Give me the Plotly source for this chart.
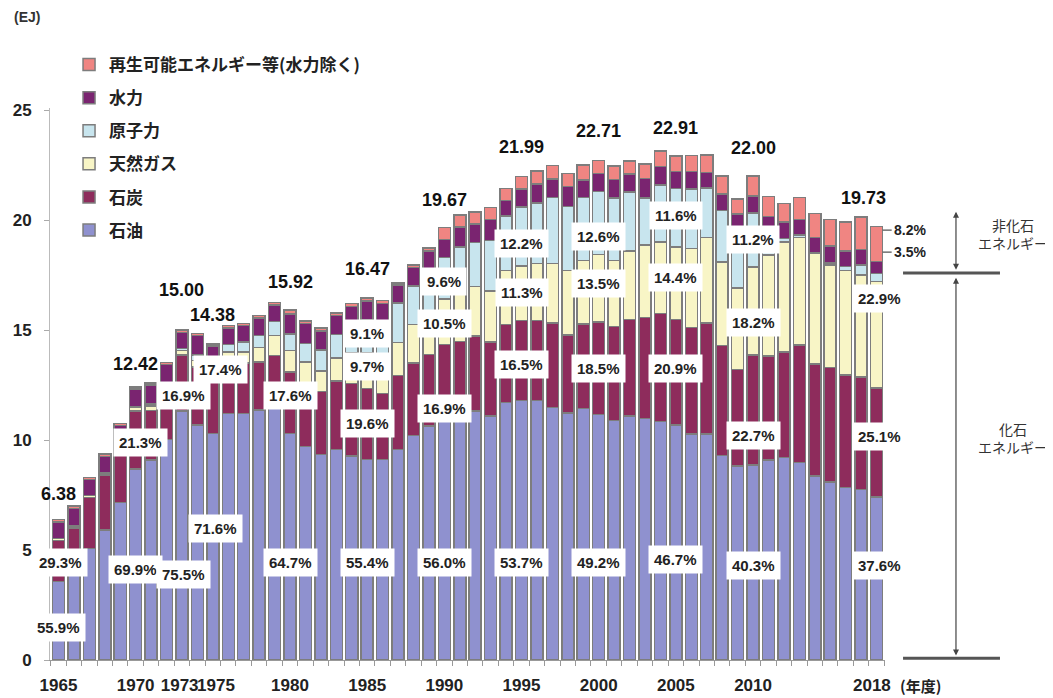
import plotly.graph_objects as go

years = list(range(1965, 2019))

# EJ per fiscal year
oil = [3.57, 4.10, 5.08, 5.91, 7.17, 8.68, 9.09, 10.03, 11.33, 10.68,
       10.30, 11.20, 11.20, 11.36, 11.50, 10.30, 9.70, 9.35, 9.58, 9.27,
       9.12, 9.12, 9.58, 10.20, 10.64, 11.02, 11.09, 11.33, 11.09, 11.70,
       11.81, 11.79, 11.48, 11.24, 11.44, 11.17, 10.90, 11.09, 10.98, 10.85,
       10.69, 10.27, 10.27, 9.30, 8.82, 8.87, 9.09, 9.21, 8.97, 8.36,
       8.10, 7.85, 7.76, 7.42]
coal = [1.87, 1.90, 2.31, 2.50, 2.55, 2.65, 2.25, 2.20, 2.54, 2.65,
        2.50, 2.40, 2.30, 2.20, 2.35, 2.80, 2.90, 2.85, 3.10, 3.30,
        3.23, 3.00, 3.35, 3.30, 3.25, 3.32, 3.40, 3.40, 3.38, 3.55,
        3.63, 3.65, 3.85, 3.53, 3.83, 4.20, 4.26, 4.40, 4.60, 4.90,
        4.79, 4.85, 5.05, 5.00, 4.40, 4.99, 4.73, 4.80, 5.35, 5.10,
        5.20, 5.10, 5.10, 4.95]
gas = [0.08, 0.10, 0.08, 0.10, 0.12, 0.15, 0.20, 0.25, 0.20, 0.30,
       0.35, 0.40, 0.50, 0.65, 0.90, 0.97, 0.95, 0.95, 1.05, 1.40,
       1.60, 1.60, 1.50, 1.75, 1.95, 2.07, 2.25, 2.25, 2.30, 2.45,
       2.48, 2.60, 2.70, 2.95, 2.90, 3.07, 3.00, 3.10, 3.30, 3.25,
       3.30, 3.60, 3.90, 3.80, 3.70, 4.00, 4.60, 5.00, 4.90, 5.05,
       4.65, 4.75, 4.65, 4.85]
nuclear = [0.00, 0.00, 0.00, 0.01, 0.02, 0.04, 0.09, 0.10, 0.10, 0.25,
           0.35, 0.35, 0.45, 0.55, 0.65, 0.75, 0.85, 0.95, 1.08, 1.30,
           1.50, 1.70, 1.80, 1.75, 1.85, 1.89, 2.05, 2.00, 2.30, 2.50,
           2.68, 2.75, 3.00, 2.90, 2.85, 2.86, 2.85, 2.70, 2.12, 2.60,
           2.66, 2.70, 2.25, 2.35, 2.60, 2.46, 0.95, 0.15, 0.10, 0.00,
           0.10, 0.20, 0.45, 0.35]
hydro = [0.75, 0.80, 0.73, 0.74, 0.80, 0.80, 0.87, 0.85, 0.73, 0.87,
         0.78, 0.75, 0.75, 0.80, 0.75, 0.92, 0.90, 0.87, 0.85, 0.80,
         0.87, 0.80, 0.82, 0.85, 0.90, 0.82, 0.90, 0.85, 0.95, 0.70,
         0.82, 0.85, 0.85, 0.90, 0.80, 0.82, 0.85, 0.80, 0.90, 0.85,
         0.78, 0.80, 0.70, 0.75, 0.75, 0.77, 0.80, 0.75, 0.70, 0.70,
         0.78, 0.70, 0.70, 0.55]
renewables = [0.11, 0.10, 0.10, 0.10, 0.10, 0.10, 0.10, 0.10, 0.10, 0.10,
              0.10, 0.10, 0.10, 0.10, 0.10, 0.18, 0.12, 0.13, 0.13, 0.13,
              0.15, 0.13, 0.10, 0.12, 0.15, 0.55, 0.55, 0.55, 0.55, 0.55,
              0.57, 0.60, 0.60, 0.60, 0.68, 0.59, 0.60, 0.60, 0.65, 0.70,
              0.69, 0.72, 0.80, 0.80, 0.70, 0.91, 0.90, 0.85, 1.00, 1.10,
              1.20, 1.32, 1.48, 1.60]

# total labels
total_years = [1965, 1970, 1973, 1975, 1980, 1985, 1990, 1995, 2000, 2005, 2010, 2018]
total_text = ["6.38", "12.42", "15.00", "14.38", "15.92", "16.47",
              "19.67", "21.99", "22.71", "22.91", "22.00", "19.73"]
total_dy = [14, 11, 28, 17, 16, 17, 15, 17, 18, 16, 16, 16]
total_dx = [0, 0, 0, 0, 0, 0, 0, 0, 0, 0, 0, -13]

# share labels (text, position in year / EJ)
pct_text = ["55.9%", "29.3%", "69.9%", "21.3%", "75.5%", "16.9%", "71.6%", "17.4%",
            "64.7%", "17.6%", "55.4%", "19.6%", "9.7%", "9.1%",
            "56.0%", "16.9%", "10.5%", "9.6%", "53.7%", "16.5%", "11.3%", "12.2%",
            "49.2%", "18.5%", "13.5%", "12.6%", "46.7%", "20.9%", "14.4%", "11.6%",
            "40.3%", "22.7%", "18.2%", "11.2%", "37.6%", "25.1%", "22.9%"]
pct_x = [1965, 1965.1, 1970, 1970.3, 1973.1, 1973.1, 1975.2, 1975.5,
         1980, 1980, 1985, 1985, 1985, 1985,
         1990, 1990, 1990, 1990, 1995, 1995, 1995, 1995,
         2000, 2000, 2000, 2000, 2005, 2005, 2005, 2005,
         2010, 2010, 2010, 2010, 2018.2, 2018.2, 2018.2]
pct_y = [1.5, 4.45, 4.1, 9.9, 3.9, 12.05, 6.0, 13.2,
         4.45, 12.05, 4.45, 10.77, 13.36, 14.86,
         4.45, 11.45, 15.3, 17.2, 4.45, 13.45, 16.7, 18.95,
         4.45, 13.27, 17.1, 19.27, 4.55, 13.27, 17.4, 20.2,
         4.3, 10.2, 15.35, 19.1, 4.3, 10.15, 16.45]

tick_pos = [1965, 1970, 1972.85, 1975.2, 1980, 1985, 1990, 1995, 2000, 2005, 2010, 2017.7]
tick_text = ["1965", "1970", "1973", "1975", "1980", "1985", "1990", "1995",
             "2000", "2005", "2010", "2018"]

series = [
    ("石油", oil, "#8f91cf"),
    ("石炭", coal, "#8e2c5c"),
    ("天然ガス", gas, "#f8f5c6"),
    ("原子力", nuclear, "#c8e5ee"),
    ("水力", hydro, "#7a2470"),
    ("再生可能エネルギー等(水力除く)", renewables, "#f08582"),
]

NUM = "Liberation Sans, Arial, sans-serif"
JP = "Noto Sans CJK JP, sans-serif"

fig = go.Figure()
for i, (name, vals, col) in enumerate(series):
    fig.add_trace(go.Bar(x=years, y=vals, name=name, legendgroup=name,
                         legendrank=len(series) - i,
                         width=0.78, marker_color=col,
                         marker_line=dict(color="#7d7d7d", width=1.5)))

totals = [sum(v) for v in zip(oil, coal, gas, nuclear, hydro, renewables)]

for yr, t, dy, dx in zip(total_years, total_text, total_dy, total_dx):
    fig.add_annotation(x=yr, y=totals[years.index(yr)], text=t, showarrow=False,
                       yanchor="bottom", yshift=dy, xshift=dx,
                       font=dict(family=NUM, size=18, color="#111", weight="bold"))

for t, x, y in zip(pct_text, pct_x, pct_y):
    fig.add_annotation(x=x, y=y, text=t, showarrow=False, bgcolor="white",
                       borderpad=5, font=dict(family=NUM, size=15, color="#222", weight="bold"))

# small leader labels for 2018
fig.add_annotation(x=2018.4, y=19.55, text="8.2%", showarrow=True, arrowhead=0,
                   arrowwidth=1.2, arrowcolor="#555", ax=9, ay=0, xanchor="left",
                   font=dict(family=NUM, size=14, color="#222", weight="bold"))
fig.add_annotation(x=2018.4, y=18.55, text="3.5%", showarrow=True, arrowhead=0,
                   arrowwidth=1.2, arrowcolor="#555", ax=9, ay=0, xanchor="left",
                   font=dict(family=NUM, size=14, color="#222", weight="bold"))

# fossil / non-fossil brackets on the right
for yv in [17.6, 0.08]:
    fig.add_shape(type="line", xref="paper", yref="y", x0=1.0216, x1=1.1377,
                  y0=yv, y1=yv, line=dict(color="#555", width=3))
for y0, y1 in [(17.75, 20.45), (0.2, 17.45)]:
    fig.add_annotation(xref="paper", yref="y", x=1.085, y=y0, axref="pixel", ax=0,
                       ayref="y", ay=y1, text="", showarrow=True, arrowhead=2,
                       startarrowhead=2, arrowside="end+start", arrowsize=1,
                       arrowwidth=1.2, arrowcolor="#444", standoff=0, startstandoff=0)
fig.add_annotation(xref="paper", yref="y", x=1.1086, y=19.35, text="非化石<br>エネルギー",
                   showarrow=False, xanchor="left", align="center",
                   font=dict(family=JP, size=14, color="#333"))
fig.add_annotation(xref="paper", yref="y", x=1.1086, y=10.1, text="化石<br>エネルギー",
                   showarrow=False, xanchor="left", align="center",
                   font=dict(family=JP, size=14, color="#333"))

fig.add_annotation(xref="paper", yref="paper", x=-0.046, y=1.165, text="(EJ)",
                   showarrow=False, xanchor="left", yanchor="middle",
                   font=dict(family=NUM, size=14, color="#333", weight="bold"))
fig.add_annotation(xref="paper", yref="paper", x=1.042, y=-0.0453, text="(年度)",
                   showarrow=False, xanchor="center", yanchor="middle",
                   font=dict(family=JP, size=15, color="#222", weight="bold"))

# the page body has an 8px margin, so the figure is 8px smaller than the window
fig.update_layout(
    width=1045, height=690, autosize=False,
    margin=dict(l=42, r=168, t=100, b=38),
    barmode="stack",
    plot_bgcolor="white", paper_bgcolor="white",
    legend=dict(x=0.0228, y=1.1105, xanchor="left", yanchor="top",
                traceorder="grouped", tracegroupgap=8,
                font=dict(family=JP, size=17, color="#222", weight="bold"),
                bgcolor="rgba(0,0,0,0)"),
    xaxis=dict(range=[1964.45, 2018.55], tickmode="array", tickvals=tick_pos,
               ticktext=tick_text, ticks="", tickangle=0, showline=True,
               linecolor="#999", linewidth=1, showgrid=False, zeroline=False,
               ticklabelstandoff=10, automargin=False,
               tickfont=dict(family=NUM, size=17, color="#222", weight="bold"),
               minor=dict(tickmode="linear", tick0=1964.5, dtick=1, ticks="outside",
                          ticklen=5, tickcolor="#999", showgrid=False)),
    yaxis=dict(range=[0, 25.1], tickvals=[0, 5, 10, 15, 20, 25], ticks="outside",
               ticklen=5, tickcolor="#aaa", showline=True, linecolor="#bbb",
               showgrid=False, zeroline=False, ticklabelstandoff=9, automargin=False,
               tickfont=dict(family=NUM, size=17, color="#222", weight="bold")),
)

fig.write_html("out.html")
